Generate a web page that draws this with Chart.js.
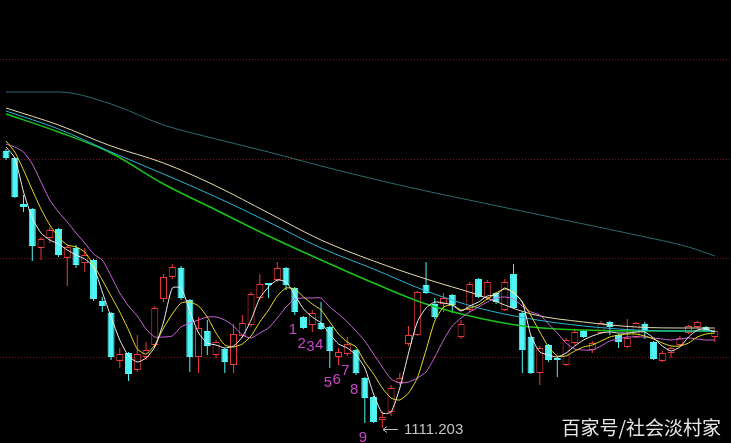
<!DOCTYPE html>
<html>
<head>
<meta charset="utf-8">
<style>
  html, body { margin: 0; padding: 0; background: #000; }
  #wrap { width: 731px; height: 443px; }
</style>
</head>
<body>
<div id="wrap"><canvas id="kline" width="731" height="443"></canvas></div>
<script src="https://cdn.jsdelivr.net/npm/chart.js@4.4.1/dist/chart.umd.min.js"></script>
<script>
// daily candles, oldest first
const opens = [1665, 1651, 1559, 1549, 1471, 1491, 1509, 1451, 1471, 1441,
    1447, 1365, 1341, 1245, 1261, 1227, 1253, 1277, 1369, 1413,
    1431, 1367, 1253, 1305, 1257, 1269, 1237, 1295, 1317, 1371,
    1401, 1407, 1431, 1391, 1333, 1317, 1321, 1313, 1253, 1259,
    1267, 1211, 1173, 1127, 1143, 1201, 1279, 1297, 1397, 1359,
    1359, 1377, 1293, 1347, 1409, 1371, 1381, 1347, 1419, 1341,
    1293, 1221, 1277, 1251, 1237, 1281, 1305, 1267, 1301, 1323,
    1297, 1273, 1293, 1319, 1283, 1245, 1261, 1277, 1301, 1313,
    1313, 1293];
const closes = [1651, 1573, 1553, 1475, 1489, 1507, 1457, 1473, 1437, 1457,
    1369, 1355, 1253, 1259, 1219, 1259, 1267, 1351, 1413, 1433,
    1371, 1253, 1311, 1275, 1283, 1243, 1299, 1321, 1379, 1399,
    1397, 1431, 1397, 1343, 1311, 1341, 1309, 1265, 1263, 1279,
    1221, 1171, 1123, 1133, 1191, 1211, 1297, 1383, 1381, 1333,
    1371, 1357, 1319, 1399, 1373, 1403, 1363, 1403, 1351, 1267,
    1221, 1271, 1247, 1247, 1287, 1303, 1293, 1281, 1321, 1313,
    1283, 1291, 1321, 1305, 1249, 1261, 1271, 1291, 1315, 1323,
    1305, 1305];
const highs = [1669, 1653, 1577, 1551, 1493, 1513, 1511, 1477, 1477, 1471,
    1449, 1373, 1343, 1271, 1263, 1297, 1283, 1355, 1419, 1439,
    1435, 1369, 1333, 1327, 1287, 1271, 1319, 1337, 1383, 1419,
    1401, 1443, 1433, 1393, 1335, 1347, 1363, 1315, 1271, 1293,
    1269, 1213, 1175, 1143, 1197, 1221, 1315, 1385, 1443, 1371,
    1381, 1379, 1327, 1403, 1411, 1407, 1383, 1409, 1439, 1343,
    1295, 1275, 1279, 1253, 1291, 1307, 1307, 1285, 1325, 1325,
    1299, 1329, 1323, 1323, 1285, 1265, 1273, 1295, 1317, 1325,
    1315, 1309];
const lows = [1647, 1571, 1543, 1445, 1447, 1481, 1453, 1395, 1431, 1423,
    1365, 1343, 1247, 1231, 1205, 1223, 1247, 1273, 1363, 1409,
    1367, 1223, 1221, 1257, 1251, 1221, 1221, 1291, 1313, 1367,
    1371, 1403, 1387, 1337, 1309, 1303, 1307, 1231, 1237, 1255,
    1217, 1121, 1121, 1111.203, 1135, 1197, 1275, 1295, 1379, 1329,
    1343, 1341, 1289, 1343, 1371, 1367, 1359, 1345, 1349, 1221,
    1219, 1197, 1243, 1213, 1235, 1277, 1291, 1261, 1299, 1297,
    1271, 1271, 1291, 1289, 1247, 1243, 1251, 1275, 1299, 1311,
    1303, 1283];

// short moving averages, one value per candle
const ma5 = [1673, 1651, 1583, 1531, 1501, 1487, 1479, 1467, 1457, 1449,
    1433, 1383, 1333, 1287, 1255, 1243, 1251, 1273, 1323, 1391,
    1391, 1345, 1301, 1281, 1277, 1271, 1275, 1293, 1327, 1371,
    1393, 1407, 1403, 1377, 1349, 1333, 1321, 1299, 1279, 1271,
    1257, 1231, 1179, 1141, 1143, 1191, 1261, 1323, 1351, 1363,
    1361, 1357, 1345, 1355, 1363, 1375, 1377, 1391, 1381, 1363,
    1295, 1263, 1257, 1253, 1261, 1275, 1287, 1295, 1301, 1303,
    1301, 1301, 1303, 1303, 1291, 1275, 1265, 1273, 1293, 1307,
    1309, 1303];
const ma10 = [1685, 1663, 1627, 1587, 1549, 1517, 1493, 1477, 1473, 1463,
    1437, 1407, 1375, 1343, 1307, 1269, 1259, 1277, 1311, 1339,
    1361, 1363, 1355, 1333, 1301, 1277, 1273, 1279, 1295, 1323,
    1347, 1375, 1391, 1389, 1373, 1359, 1347, 1323, 1299, 1283,
    1273, 1243, 1219, 1191, 1171, 1167, 1181, 1211, 1267, 1325,
    1353, 1357, 1347, 1351, 1357, 1369, 1381, 1389, 1383, 1363,
    1335, 1303, 1273, 1255, 1255, 1265, 1273, 1277, 1285, 1293,
    1297, 1299, 1299, 1295, 1289, 1281, 1275, 1275, 1281, 1293,
    1299, 1301];
const ma20 = [1679, 1673, 1663, 1639, 1603, 1567, 1543, 1523, 1501, 1481,
    1459, 1447, 1415, 1381, 1355, 1335, 1309, 1293, 1293, 1295,
    1313, 1321, 1327, 1333, 1333, 1327, 1315, 1297, 1291, 1301,
    1311, 1331, 1353, 1369, 1371, 1371, 1371, 1353, 1339, 1323,
    1305, 1285, 1259, 1233, 1209, 1201, 1203, 1211, 1223, 1253,
    1287, 1315, 1331, 1343, 1353, 1363, 1371, 1373, 1369, 1355,
    1343, 1337, 1319, 1301, 1281, 1269, 1267, 1267, 1275, 1285,
    1289, 1293, 1293, 1293, 1291, 1289, 1287, 1289, 1291, 1289,
    1287, 1287];

// long moving averages, read every sixth candle
const longIdx = [0, 6, 12, 18, 24, 30, 36, 42, 48, 54, 60, 66, 72, 78, 81];
const ma30 = [1751, 1717, 1675, 1641, 1595, 1541, 1487, 1445, 1409, 1377, 1339, 1323, 1313, 1311, 1311];
const ma60 = [1745, 1709, 1663, 1619, 1573, 1523, 1471, 1429, 1385, 1351, 1329, 1315, 1307, 1305, 1305];
const ma120 = [1739, 1703, 1661, 1599, 1547, 1495, 1447, 1401, 1359, 1331, 1313, 1307, 1305, 1305, 1305];
const ma250 = [1783, 1783, 1759, 1717, 1689, 1663, 1635, 1609, 1585, 1563, 1541, 1519, 1497, 1473, 1455];

const gridLevels = [1253, 1451, 1649, 1847];
const waveText = ['1', '2', '3', '4', '5', '6', '7', '8', '9'];
const waveAt = [33, 34, 35, 36, 37, 38, 39, 40, 41];

const upColor = '#f03a3a';
const downColor = '#50f6f6';

const isUp = opens.map((o, i) => closes[i] >= o);

const bodies = opens.map((o, i) => ({ x: i, y: [o, closes[i]] }));
const wicks = lows.map((l, i) => ({ x: i, y: [l, highs[i]] }));

function line(values, color, width) {
    return {
        type: 'line',
        data: values.map((v, i) => ({ x: i, y: v })),
        borderColor: color,
        borderWidth: width || 1,
        pointRadius: 0,
        tension: 0.2,
        order: 0
    };
}

function longLine(values, color, width) {
    return {
        type: 'line',
        data: values.map((v, i) => ({ x: longIdx[i], y: v })),
        borderColor: color,
        borderWidth: width || 1,
        pointRadius: 0,
        cubicInterpolationMode: 'monotone',
        order: 0
    };
}

// labels drawn on top: wave count, lowest price, watermark
const marks = {
    id: 'marks',
    afterDatasetsDraw(chart) {
        const { ctx, scales: { x, y } } = chart;
        ctx.save();

        ctx.fillStyle = '#cc44cc';
        ctx.font = '15px "Liberation Sans", Arial, sans-serif';
        ctx.textAlign = 'center';
        ctx.textBaseline = 'middle';
        waveAt.forEach((k, n) => {
            ctx.fillText(waveText[n], x.getPixelForValue(k) - 2, y.getPixelForValue(lows[k]) + 15);
        });

        let lo = 0;
        lows.forEach((v, i) => { if (v < lows[lo]) lo = i; });
        const px = Math.round(x.getPixelForValue(lo)) + 1;
        const py = Math.round(y.getPixelForValue(lows[lo])) + 1.5;
        ctx.strokeStyle = '#bcbcbc';
        ctx.lineWidth = 1;
        ctx.beginPath();
        ctx.moveTo(px, py); ctx.lineTo(px + 15, py);
        ctx.moveTo(px, py); ctx.lineTo(px + 4, py - 3);
        ctx.moveTo(px, py); ctx.lineTo(px + 4, py + 3);
        ctx.stroke();
        ctx.fillStyle = '#c4c4c4';
        ctx.textAlign = 'left';
        ctx.fillText(lows[lo].toFixed(3), px + 21, py);

        ctx.fillStyle = '#e6e6e6';
        ctx.font = '19px "Noto Sans CJK SC", sans-serif';
        ctx.textAlign = 'right';
        ctx.fillText('百家号/社会淡村家', 721, 428);
        ctx.restore();
    }
};

const config = {
    type: 'bar',
    data: {
        datasets: [
            line(ma5, '#eeeeee'),
            line(ma10, '#e8e020'),
            line(ma20, '#cc66dd'),
            longLine(ma30, '#e4dab0'),
            longLine(ma60, '#2cb4d4'),
            longLine(ma120, '#18c418', 1.5),
            longLine(ma250, '#2c6a70'),
            {
                data: bodies,
                backgroundColor: isUp.map(u => u ? '#000000' : downColor),
                borderColor: isUp.map(u => u ? upColor : downColor),
                borderWidth: 1,
                borderSkipped: false,
                barThickness: 7,
                minBarLength: 1,
                inflateAmount: 0,
                grouped: false,
                order: 1
            },
            {
                data: wicks,
                backgroundColor: isUp.map(u => u ? upColor : downColor),
                borderWidth: 0,
                barThickness: 1,
                inflateAmount: 0,
                grouped: false,
                order: 2
            }
        ]
    },
    options: {
        responsive: false,
        animation: false,
        events: [],
        layout: { padding: 0 },
        plugins: {
            legend: { display: false },
            tooltip: { enabled: false }
        },
        scales: {
            x: {
                type: 'linear',
                min: -0.69,
                max: 82.85,
                offset: false,
                display: false
            },
            y: {
                min: 1081,
                max: 1967,
                bounds: 'data',
                afterBuildTicks: (scale) => {
                    scale.ticks = gridLevels.map(v => ({ value: v }));
                },
                ticks: { display: false },
                grid: { color: '#801818', lineWidth: 1, drawTicks: false, borderDash: [1, 2] },
                border: { display: false, dash: [1, 2] }
            }
        }
    },
    plugins: [marks]
};

let kline = new Chart(document.getElementById('kline'), config);
</script>
</body>
</html>
